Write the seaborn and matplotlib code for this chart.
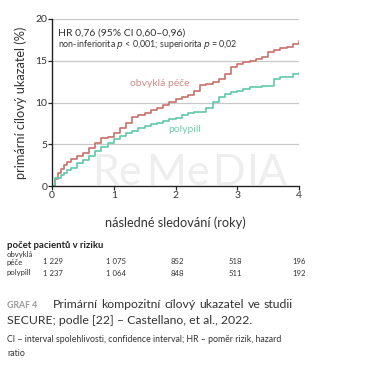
import matplotlib
matplotlib.use("Agg")
import matplotlib.pyplot as plt
import seaborn as sns
import pandas as pd

# --- data ---
years = [0, 0.05, 0.1, 0.15, 0.2, 0.25, 0.3, 0.4, 0.5, 0.6, 0.7, 0.8, 0.9, 1.0,
         1.1, 1.2, 1.3, 1.4, 1.5, 1.6, 1.7, 1.8, 1.9, 2.0, 2.1, 2.2, 2.3, 2.4,
         2.5, 2.6, 2.7, 2.8, 2.9, 3.0, 3.1, 3.2, 3.3, 3.4, 3.5, 3.6, 3.7, 3.8,
         3.9, 4.0]
usual_care = [0, 0.8, 1.5, 2.0, 2.5, 2.9, 3.2, 3.6, 4.0, 4.5, 5.2, 5.7, 5.9, 6.4,
              6.9, 7.5, 8.3, 8.5, 8.8, 9.1, 9.4, 9.7, 10.1, 10.4, 10.7, 10.9, 11.4, 12.1,
              12.2, 12.4, 12.8, 13.4, 14.2, 14.6, 14.8, 15.0, 15.2, 15.4, 16.0, 16.3, 16.5, 16.7,
              17.0, 17.4]
polypill = [0, 0.9, 1.0, 1.3, 1.6, 1.9, 2.2, 2.7, 3.1, 3.6, 4.2, 4.7, 5.2, 5.6,
            6.0, 6.3, 6.6, 6.9, 7.2, 7.4, 7.6, 7.8, 8.0, 8.2, 8.5, 8.8, 8.9, 8.9,
            9.3, 10.1, 10.7, 11.0, 11.2, 11.4, 11.6, 11.8, 11.9, 12.0, 12.0, 12.8, 13.0, 13.1,
            13.4, 13.5]
x_ticks = [0, 1, 2, 3, 4]
y_ticks = [0, 5, 10, 15, 20]
risk_usual = ["1 229", "1 075", "852", "518", "196"]
risk_poly = ["1 237", "1 064", "848", "511", "192"]

RED = "#c8706a"
GREEN = "#5fc9a7"

sns.set_style("white")
plt.rcParams['font.family'] = ['Lato', 'DejaVu Sans']

fig = plt.figure(figsize=(3.82, 3.67), dpi=100)
W, H = 382, 367

# watermark, spaced out letter by letter
for ch, px in zip("ReMeDIA", [92, 118, 146, 186, 212, 246, 258]):
    fig.text(px / W, 1 - 185 / H, ch, fontsize=31, color="#eeeeee",
             ha="left", va="baseline", zorder=0)

ax = fig.add_axes([52 / W, 1 - 186 / H, 247 / W, 167 / H])
ax.patch.set_alpha(0)

df = pd.DataFrame({"t": years + years,
                   "v": usual_care + polypill,
                   "arm": ["obvyklá péče"] * len(years) + ["polypill"] * len(years)})
sns.lineplot(data=df, x="t", y="v", hue="arm", palette=[RED, GREEN],
             drawstyle="steps-post", linewidth=1.2, legend=False, ax=ax)

ax.set_xlim(0, 4)
ax.set_ylim(0, 20)
ax.set_xticks(x_ticks)
ax.set_yticks(y_ticks)
for y in y_ticks[1:]:
    ax.axhline(y, color="#c8c8c8", lw=0.9, zorder=0)
sns.despine(ax=ax)
for s in ["left", "bottom"]:
    ax.spines[s].set_color("#222222")
    ax.spines[s].set_linewidth(1.0)
ax.tick_params(direction="out", length=3, width=0.9, color="#222222",
               labelsize=7.5, labelcolor="#333333", pad=0.5, left=True, bottom=True)
ax.set_xlabel("následné sledování (roky)", fontsize=9.2, color="#333333", labelpad=12)
ax.set_ylabel("primární cílový ukazatel (%)", fontsize=9.2, color="#333333", labelpad=6)

ax.text(0.1, 18.3, "HR 0,76 (95% CI 0,60–0,96)", fontsize=7.5, color="#333333", va="center")
ax.text(0.1, 16.9, "non-inferiorita $p$ < 0,001; superiorita $p$ = 0,02", fontsize=6.4,
        color="#333333", va="center")
ax.text(1.75, 12.3, "obvyklá péče", fontsize=7.5, color="#d08a84", ha="center", va="center")
ax.text(2.15, 6.8, "polypill", fontsize=7.5, color="#6dcfae", ha="center", va="center")

# at-risk table
fig.text(7 / W, 1 - 246 / H, "počet pacientů v riziku", fontsize=6.8, fontweight="bold",
         color="#222222", va="center")
fig.text(7 / W, 1 - 254 / H, "obvyklá", fontsize=5.6, color="#333333", va="center")
fig.text(7 / W, 1 - 262 / H, "péče", fontsize=5.6, color="#333333", va="center")
fig.text(7 / W, 1 - 273 / H, "polypill", fontsize=5.6, color="#333333", va="center")
col_x = [43, 106, 171, 229, 292]
for cx, a, b in zip(col_x, risk_usual, risk_poly):
    fig.text(cx / W, 1 - 262 / H, a, fontsize=5.6, color="#333333", va="center")
    fig.text(cx / W, 1 - 273 / H, b, fontsize=5.6, color="#333333", va="center")

# caption (first line is justified between x=53 and x=293 in the source)
fig.text(7 / W, 1 - 305 / H, "GRAF 4", fontsize=6.3, fontweight="bold", color="#9a9a9a",
         va="center")
words = ["Primární", "kompozitní", "cílový", "ukazatel", "ve", "studii"]
renderer = fig.canvas.get_renderer()
tw = [fig.text(0, 0, w, fontsize=8.8) for w in words]
widths = [t.get_window_extent(renderer).width for t in tw]
for t in tw:
    t.remove()
gap = (293 - 53 - sum(widths)) / (len(words) - 1)
px = 53
for w, wd in zip(words, widths):
    fig.text(px / W, 1 - 305 / H, w, fontsize=8.8, color="#333333", va="center")
    px += wd + gap
fig.text(7 / W, 1 - 321 / H, "SECURE; podle [22] – Castellano, et al., 2022.",
         fontsize=8.8, color="#333333", va="center")
fig.text(7 / W, 1 - 339 / H,
         "CI – interval spolehlivosti, confidence interval; HR – poměr rizik, hazard",
         fontsize=6.3, color="#333333", va="center")
fig.text(7 / W, 1 - 353 / H, "ratio", fontsize=6.3, color="#333333", va="center")

fig.savefig("out.png", dpi=100)
